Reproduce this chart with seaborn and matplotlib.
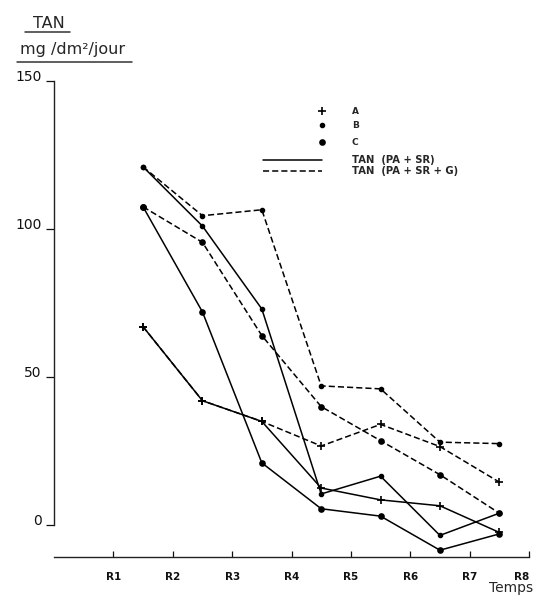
import matplotlib
matplotlib.use("Agg")
import matplotlib.pyplot as plt
from matplotlib.lines import Line2D
import seaborn as sns

# Sampling periods and measurement positions (between periods)
periods = ["R1", "R2", "R3", "R4", "R5", "R6", "R7", "R8"]
period_pos = [1, 2, 3, 4, 5, 6, 7, 8]
sample_pos = [1.5, 2.5, 3.5, 4.5, 5.5, 6.5, 7.5]

# TAN in mg/dm²/jour
a_pa_sr = [67, 42, 35, 12.5, 8.5, 6.5, -2.5]
a_pa_sr_g = [67, 42, 35, 26.7, 34, 26.5, 14.5]
b_pa_sr = [121, 101, 73, 10.5, 16.5, -3.5, 4]
b_pa_sr_g = [121, 104.5, 106.5, 47, 46, 28, 27.5]
c_pa_sr = [107.5, 72, 21, 5.5, 3, -8.5, -3]
c_pa_sr_g = [107.5, 95.5, 64, 40, 28.5, 17, 4]

y_ticks = [0, 50, 100, 150]

sns.set_style("white")
plt.rcParams["font.family"] = ["DejaVu Sans"]

W, H = 535, 597
fig = plt.figure(figsize=(W / 100, H / 100), dpi=100)
ax = fig.add_axes([54 / W, 40 / H, 475 / W, 476 / H])

solid = "-"
dashed = (0, (4, 2))
series = [
    (a_pa_sr_g, dashed, "+", 6),
    (b_pa_sr_g, dashed, "o", 2.8),
    (c_pa_sr_g, dashed, "o", 3.6),
    (a_pa_sr, solid, "+", 6),
    (b_pa_sr, solid, "o", 2.8),
    (c_pa_sr, solid, "o", 3.6),
]
for values, ls, marker, ms in series:
    sns.lineplot(x=sample_pos, y=values, ax=ax, color="black",
                 linestyle=ls, linewidth=1.1, marker=marker, markersize=ms,
                 markeredgecolor="black", markerfacecolor="black",
                 markeredgewidth=1.2)

ax.set_xlim(0, 8)
ax.set_ylim(-10.8, 150)
for side in ("top", "right"):
    ax.spines[side].set_visible(False)
ax.spines["left"].set_bounds(0, 150)
for side in ("left", "bottom"):
    ax.spines[side].set_color("#222222")
    ax.spines[side].set_linewidth(1.0)

ax.set_yticks(y_ticks)
ax.set_yticklabels([str(v) for v in y_ticks], fontsize=10)
for lbl in ax.get_yticklabels():
    lbl.set_verticalalignment("baseline")
ax.tick_params(axis="y", direction="out", length=5.8, width=0.9,
               pad=3, colors="#111111", left=True)

ax.set_xticks(period_pos)
ax.set_xticklabels(periods, fontsize=7.5, fontweight="bold")
ax.tick_params(axis="x", direction="in", length=4, width=0.9, pad=11,
               colors="#111111", bottom=True)
# last period label sits against the right edge
ax.get_xticklabels()[-1].set_horizontalalignment("right")
ax.set_xlabel("")
ax.set_ylabel("")


def fx(px):
    return px / W


def fy(py):
    return 1 - py / H


# Axis title with underlines
fig.text(fx(49), fy(28), "TAN", fontsize=11.5, ha="center", va="baseline")
fig.add_artist(Line2D([fx(25), fx(70)], [fy(32), fy(32)], color="#333333",
                      linewidth=1.1, transform=fig.transFigure))
fig.text(fx(73), fy(54), "mg /dm²/jour", fontsize=11.5, ha="center",
         va="baseline")
fig.add_artist(Line2D([fx(17), fx(132)], [fy(62), fy(62)], color="#333333",
                      linewidth=1.1, transform=fig.transFigure))

fig.text(fx(533), fy(592), "Temps", fontsize=10, ha="right", va="baseline")

# Key
key_items = [
    ("+", 6, 111, "A"),
    ("o", 2.8, 125, "B"),
    ("o", 3.6, 142, "C"),
]
for marker, ms, ypx, name in key_items:
    fig.add_artist(Line2D([fx(322)], [fy(ypx)], marker=marker, markersize=ms,
                          color="black", markeredgewidth=1.2, linestyle="none",
                          transform=fig.transFigure))
    fig.text(fx(352), fy(ypx), name, fontsize=6.5, fontweight="bold",
             ha="left", va="center")

key_lines = [
    (solid, 160, "TAN  (PA + SR)"),
    (dashed, 171, "TAN  (PA + SR + G)"),
]
for ls, ypx, text in key_lines:
    fig.add_artist(Line2D([fx(263), fx(322)], [fy(ypx), fy(ypx)],
                          color="black", linewidth=1.1, linestyle=ls,
                          transform=fig.transFigure))
    fig.text(fx(352), fy(ypx), text, fontsize=7.2, fontweight="bold",
             ha="left", va="center")

fig.savefig("out.png", dpi=100)
